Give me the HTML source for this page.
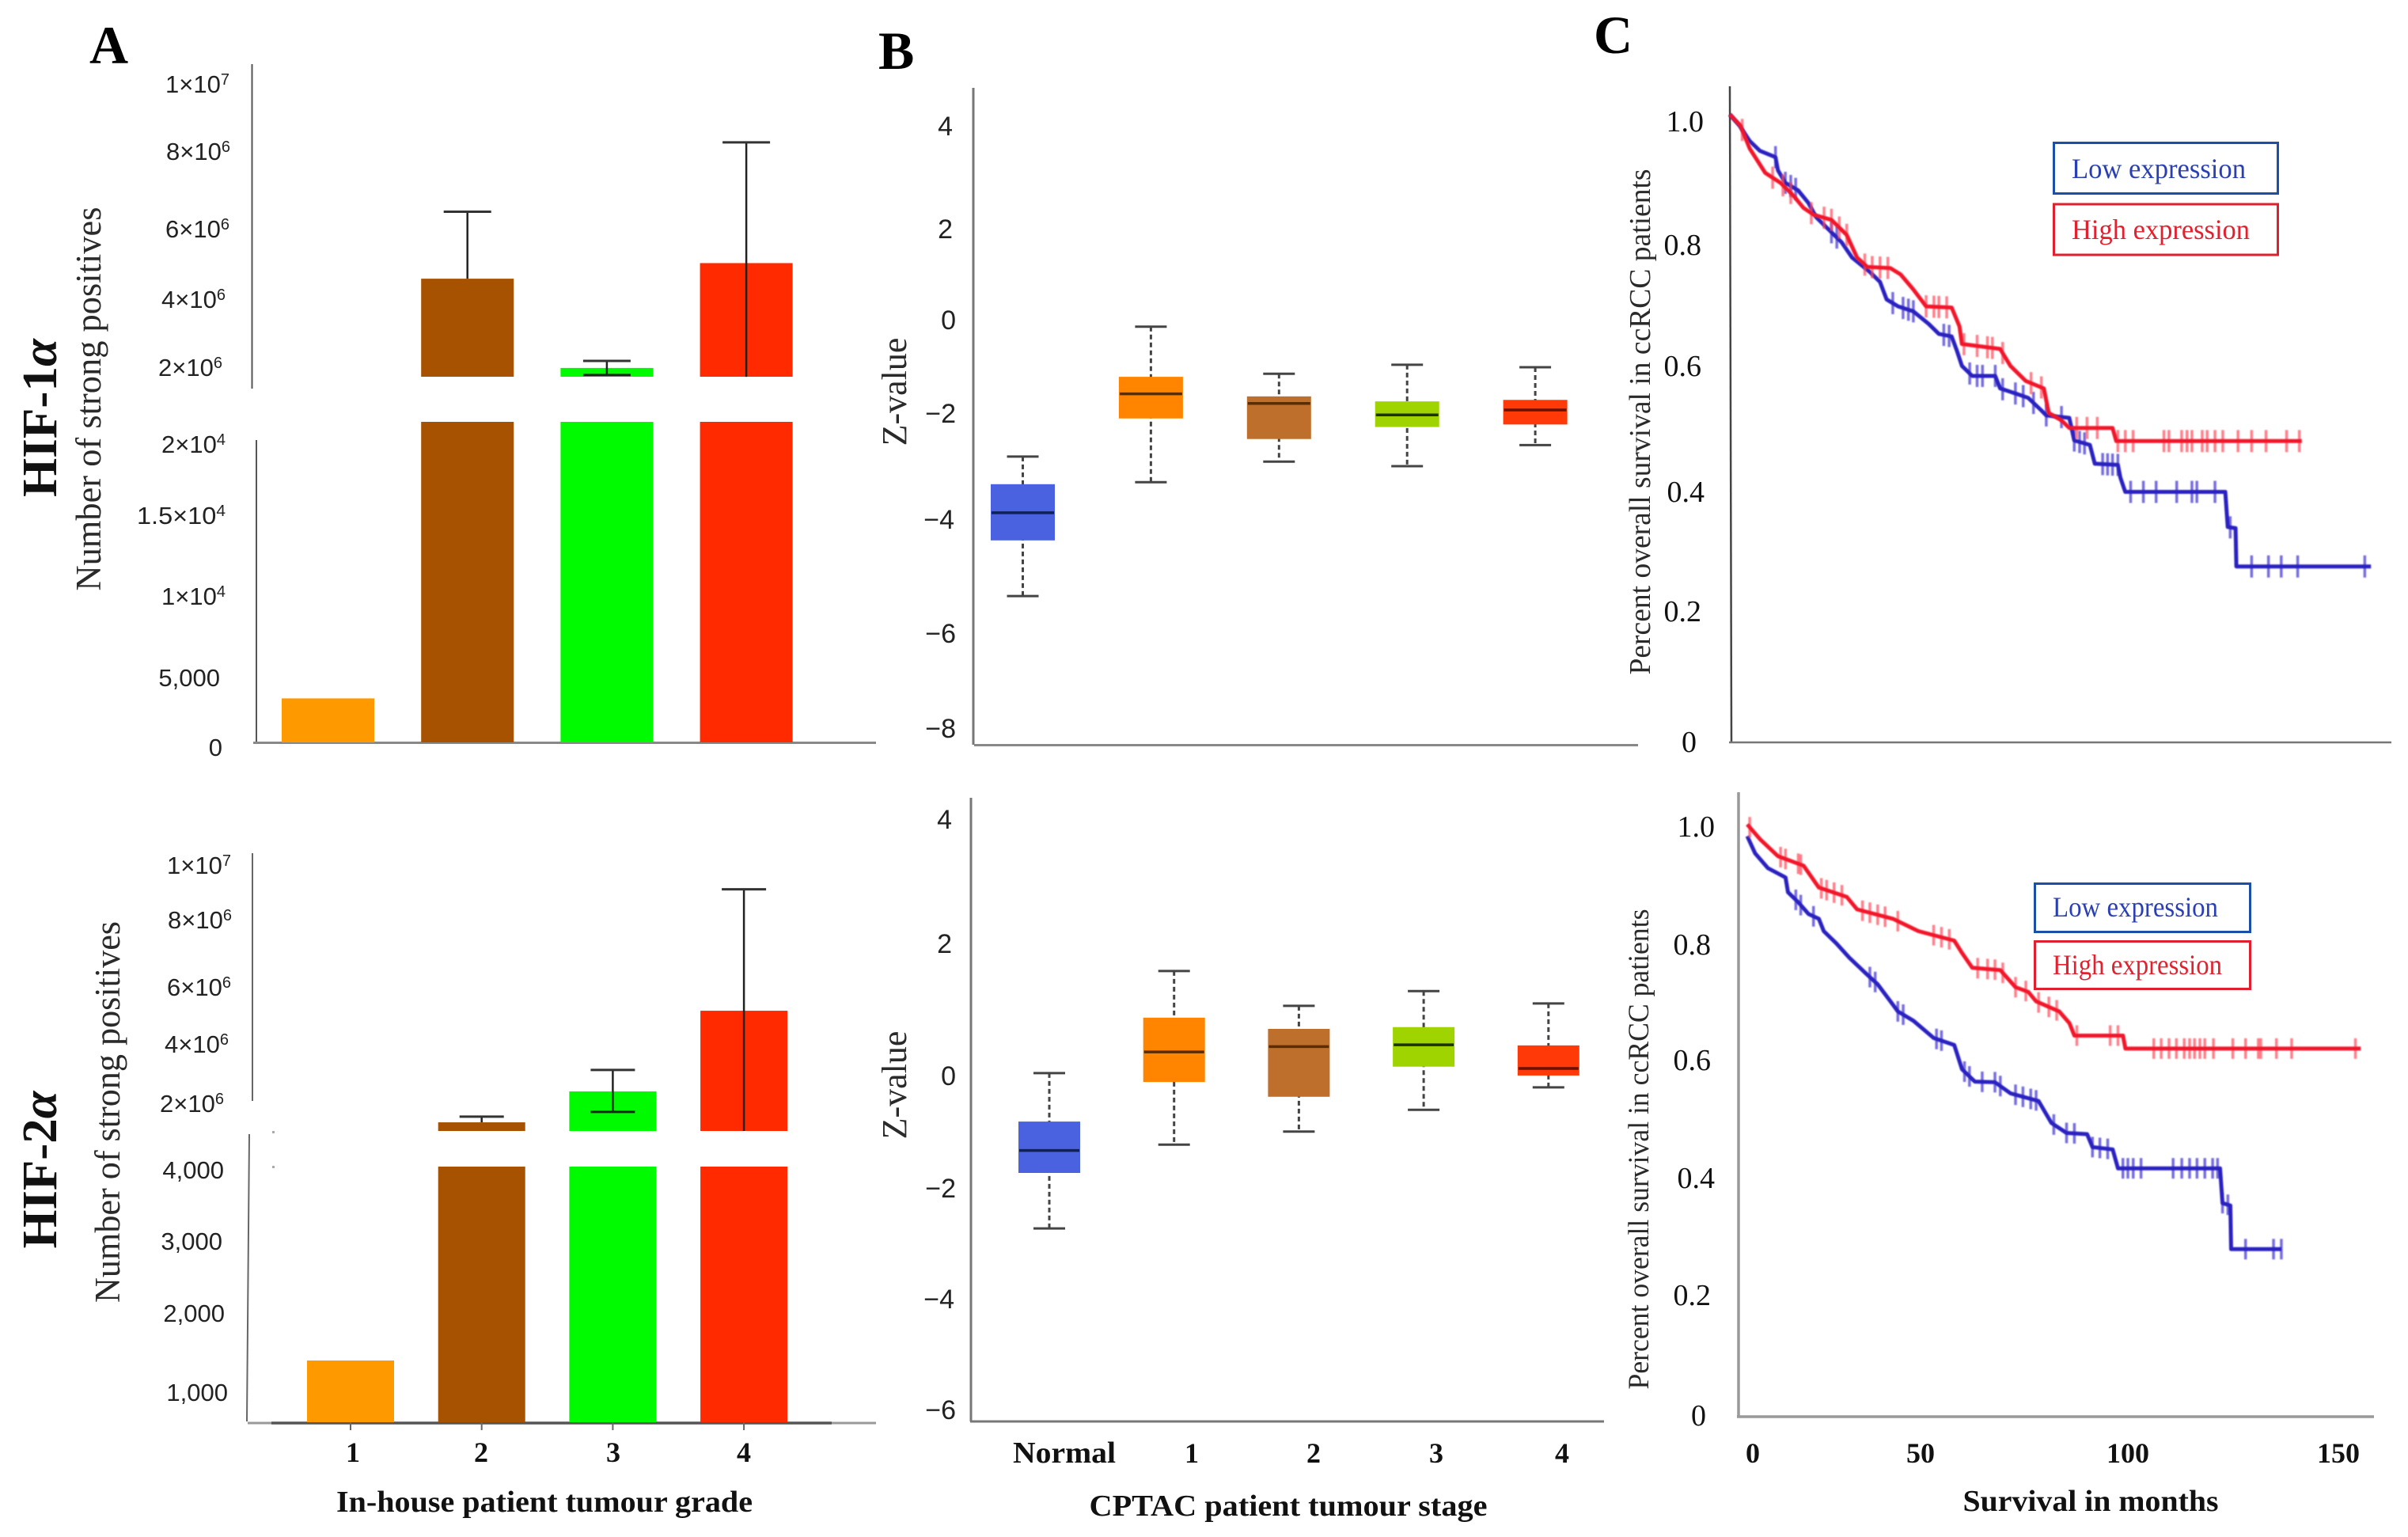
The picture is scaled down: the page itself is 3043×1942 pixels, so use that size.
<!DOCTYPE html>
<html lang="en">
<head>
<meta charset="utf-8">
<title>HIF-1α and HIF-2α expression and survival</title>
<style>
html,body{margin:0;padding:0;background:#fff;width:3043px;height:1942px;overflow:hidden}
svg{display:block}
.tk{font-family:"Liberation Sans",sans-serif;font-size:31px;fill:#222;text-anchor:end}
.tz{font-family:"Liberation Sans",sans-serif;font-size:34px;fill:#222;text-anchor:end}
.ts{font-family:"Liberation Serif",serif;font-size:38px;fill:#111;text-anchor:end}
.sup{font-size:20px}
.yt{font-family:"Liberation Serif",serif;fill:#2a2a2a;text-anchor:middle}
.bl{font-family:"Liberation Serif",serif;font-weight:bold;fill:#111;text-anchor:middle}
.panel{font-family:"Liberation Serif",serif;font-weight:bold;font-size:68px;fill:#000}
.hif{font-family:"Liberation Serif",serif;font-weight:bold;font-size:62px;fill:#111;text-anchor:middle}
.leg{font-family:"Liberation Serif",serif;font-size:36px}
</style>
</head>
<body>
<svg id="fig" xmlns="http://www.w3.org/2000/svg" width="3043" height="1942" viewBox="0 0 3043 1942">
<defs>
<filter id="soft" x="-5%" y="-5%" width="110%" height="110%"><feGaussianBlur stdDeviation="0.9"/></filter>
</defs>
<rect x="0" y="0" width="3043" height="1942" fill="#fff"/>

<!-- panel letters and row labels -->
<text class="panel" x="113" y="80">A</text>
<text class="panel" x="1110" y="87">B</text>
<text class="panel" x="2014" y="67">C</text>
<text class="hif" transform="translate(71,528) rotate(-90)" textLength="200" lengthAdjust="spacingAndGlyphs">HIF-1<tspan font-style="italic">α</tspan></text>
<text class="hif" transform="translate(71,1478) rotate(-90)" textLength="199" lengthAdjust="spacingAndGlyphs">HIF-2<tspan font-style="italic">α</tspan></text>

<!-- panel A static axes -->
<g fill="none">
<line x1="318.5" y1="81" x2="318.5" y2="491" stroke="#555" stroke-width="2"/>
<line x1="324" y1="556" x2="324" y2="938" stroke="#555" stroke-width="2"/>
<line x1="320" y1="938.5" x2="1107" y2="938.5" stroke="#888" stroke-width="3"/>
</g>
<g fill="none">
<line x1="319" y1="1078" x2="319" y2="1391" stroke="#666" stroke-width="2"/>
<line x1="315" y1="1433" x2="312" y2="1796" stroke="#666" stroke-width="2"/>
<line x1="313" y1="1798" x2="1107" y2="1798" stroke="#999" stroke-width="3"/>
<line x1="343" y1="1798" x2="1051" y2="1798" stroke="#555" stroke-width="3.5"/>
<rect x="344" y="1429" width="3" height="3" fill="#aaa"/>
<rect x="344" y="1473" width="3" height="3" fill="#aaa"/>
</g>

<!-- panel A tick labels -->
<g>
<text class="tk" x="290" y="117">1×10<tspan class="sup" dy="-10">7</tspan></text>
<text class="tk" x="291" y="202">8×10<tspan class="sup" dy="-10">6</tspan></text>
<text class="tk" x="290" y="300">6×10<tspan class="sup" dy="-10">6</tspan></text>
<text class="tk" x="285" y="389">4×10<tspan class="sup" dy="-10">6</tspan></text>
<text class="tk" x="281" y="475">2×10<tspan class="sup" dy="-10">6</tspan></text>
<text class="tk" x="285" y="572">2×10<tspan class="sup" dy="-10">4</tspan></text>
<text class="tk" x="285" y="662" textLength="112" lengthAdjust="spacingAndGlyphs">1.5×10<tspan class="sup" dy="-10">4</tspan></text>
<text class="tk" x="285" y="764">1×10<tspan class="sup" dy="-10">4</tspan></text>
<text class="tk" x="278" y="867">5,000</text>
<text class="tk" x="281" y="955">0</text>
</g>
<g>
<text class="tk" x="292" y="1104">1×10<tspan class="sup" dy="-10">7</tspan></text>
<text class="tk" x="293" y="1173">8×10<tspan class="sup" dy="-10">6</tspan></text>
<text class="tk" x="292" y="1258">6×10<tspan class="sup" dy="-10">6</tspan></text>
<text class="tk" x="289" y="1330">4×10<tspan class="sup" dy="-10">6</tspan></text>
<text class="tk" x="283" y="1405">2×10<tspan class="sup" dy="-10">6</tspan></text>
<text class="tk" x="283" y="1489">4,000</text>
<text class="tk" x="281" y="1579">3,000</text>
<text class="tk" x="284" y="1670">2,000</text>
<text class="tk" x="288" y="1770">1,000</text>
</g>
<text class="yt" font-size="45" transform="translate(127,504) rotate(-90)" textLength="485" lengthAdjust="spacingAndGlyphs">Number of strong positives</text>
<text class="yt" font-size="45" transform="translate(151,1405) rotate(-90)" textLength="482" lengthAdjust="spacingAndGlyphs">Number of strong positives</text>
<text class="bl" font-size="36" x="446" y="1847">1</text>
<text class="bl" font-size="36" x="608" y="1847">2</text>
<text class="bl" font-size="36" x="775" y="1847">3</text>
<text class="bl" font-size="36" x="940" y="1847">4</text>
<text class="bl" font-size="38" x="688" y="1910" textLength="526" lengthAdjust="spacingAndGlyphs">In-house patient tumour grade</text>

<!-- panel B static axes and labels -->
<line x1="1230" y1="111" x2="1230" y2="941" stroke="#777" stroke-width="3"/>
<line x1="1231" y1="941.5" x2="2070" y2="941.5" stroke="#888" stroke-width="3"/>
<line x1="1227" y1="1008" x2="1227" y2="1796" stroke="#777" stroke-width="3"/>
<line x1="1226" y1="1796" x2="2027" y2="1796" stroke="#777" stroke-width="3"/>
<g>
<text class="tz" x="1204" y="171">4</text>
<text class="tz" x="1204" y="301">2</text>
<text class="tz" x="1208" y="416">0</text>
<text class="tz" x="1208" y="534">−2</text>
<text class="tz" x="1206" y="668">−4</text>
<text class="tz" x="1208" y="812">−6</text>
<text class="tz" x="1208" y="932">−8</text>
</g>
<g>
<text class="tz" x="1203" y="1047">4</text>
<text class="tz" x="1203" y="1204">2</text>
<text class="tz" x="1208" y="1371">0</text>
<text class="tz" x="1208" y="1513">−2</text>
<text class="tz" x="1206" y="1653">−4</text>
<text class="tz" x="1208" y="1793">−6</text>
</g>
<text class="yt" font-size="44" transform="translate(1145,495) rotate(-90)">Z-value</text>
<text class="yt" font-size="44" transform="translate(1145,1371) rotate(-90)">Z-value</text>
<text class="bl" font-size="38" x="1345" y="1848" textLength="130" lengthAdjust="spacingAndGlyphs">Normal</text>
<text class="bl" font-size="36" x="1506" y="1848">1</text>
<text class="bl" font-size="36" x="1660" y="1848">2</text>
<text class="bl" font-size="36" x="1815" y="1848">3</text>
<text class="bl" font-size="36" x="1974" y="1848">4</text>
<text class="bl" font-size="38" x="1628" y="1915" textLength="503" lengthAdjust="spacingAndGlyphs">CPTAC patient tumour stage</text>

<!-- panel C static axes and labels -->
<line x1="2186" y1="109" x2="2188" y2="937" stroke="#444" stroke-width="2.5"/>
<line x1="2185" y1="938" x2="3022" y2="938" stroke="#777" stroke-width="2.5"/>
<line x1="2197" y1="1001" x2="2197" y2="1790" stroke="#999" stroke-width="3.5"/>
<line x1="2195" y1="1790" x2="3000" y2="1790" stroke="#999" stroke-width="3.5"/>
<g>
<text class="ts" x="2153" y="166">1.0</text>
<text class="ts" x="2150" y="322">0.8</text>
<text class="ts" x="2150" y="475">0.6</text>
<text class="ts" x="2154" y="634">0.4</text>
<text class="ts" x="2150" y="785">0.2</text>
<text class="ts" x="2144" y="950">0</text>
</g>
<g>
<text class="ts" x="2167" y="1057">1.0</text>
<text class="ts" x="2162" y="1206">0.8</text>
<text class="ts" x="2162" y="1352">0.6</text>
<text class="ts" x="2167" y="1501">0.4</text>
<text class="ts" x="2162" y="1649">0.2</text>
<text class="ts" x="2156" y="1801">0</text>
</g>
<text class="yt" font-size="38" transform="translate(2085,533) rotate(-90)" textLength="639" lengthAdjust="spacingAndGlyphs">Percent overall survival in ccRCC patients</text>
<text class="yt" font-size="37" transform="translate(2083,1452) rotate(-90)" textLength="607" lengthAdjust="spacingAndGlyphs">Percent overall survival in ccRCC patients</text>
<text class="bl" font-size="36" x="2215" y="1848">0</text>
<text class="bl" font-size="36" x="2427" y="1848">50</text>
<text class="bl" font-size="36" x="2689" y="1848">100</text>
<text class="bl" font-size="36" x="2955" y="1848">150</text>
<text class="bl" font-size="38" x="2642" y="1909" textLength="323" lengthAdjust="spacingAndGlyphs">Survival in months</text>

<!-- panel C legends -->
<g>
<rect x="2595.5" y="180.5" width="283" height="64" fill="#fff" stroke="#1c50a8" stroke-width="3"/>
<text class="leg" x="2618" y="225" fill="#2b3fb4" textLength="220" lengthAdjust="spacingAndGlyphs">Low expression</text>
<rect x="2595.5" y="258" width="283" height="64" fill="#fff" stroke="#e0202e" stroke-width="3"/>
<text class="leg" x="2618" y="302" fill="#e2202e" textLength="225" lengthAdjust="spacingAndGlyphs">High expression</text>
</g>
<g>
<rect x="2571.5" y="1116.5" width="272" height="61" fill="#fff" stroke="#1c50a8" stroke-width="3"/>
<text class="leg" x="2594" y="1158" fill="#2b3fb4" textLength="209" lengthAdjust="spacingAndGlyphs">Low expression</text>
<rect x="2571.5" y="1189.5" width="272" height="60" fill="#fff" stroke="#e0202e" stroke-width="3"/>
<text class="leg" x="2594" y="1231" fill="#e2202e" textLength="214" lengthAdjust="spacingAndGlyphs">High expression</text>
</g>
</svg>

<script>
// ---------- Panel A data ----------
const gradeCategories = ['1', '2', '3', '4'];
const hif1Means = [2950, 4.5e6, 1.98e6, 4.94e6];
const hif1ErrHigh = [null, 6.39e6, 2.18e6, 8.35e6];
const hif1ErrLow = [null, 4.5e6, 1.78e6, 1.73e6];
const hif1LowCap = [false, false, true, false];
const hif2Means = [1427, 1.36e6, 2.4e6, 5.11e6];
const hif2ErrHigh = [null, 1.55e6, 3.12e6, 9.19e6];
const hif2ErrLow = [null, 1.36e6, 1.71e6, 1.07e6];
const hif2LowCap = [false, false, true, false];
const gradeColors = ['#ff9900', '#a65200', '#00fb00', '#ff2a00'];

// ---------- Panel B data: [whisker high, q3, median, q1, whisker low] ----------
const stageCategories = ['Normal', '1', '2', '3', '4'];
const hif1Boxes = [
  [-2.59, -3.14, -3.71, -4.26, -5.37],
  [0.0, -1.0, -1.34, -1.83, -3.10],
  [-0.94, -1.39, -1.53, -2.24, -2.69],
  [-0.76, -1.49, -1.76, -2.0, -2.78],
  [-0.81, -1.46, -1.66, -1.95, -2.36]
];
const hif2Boxes = [
  [-0.16, -0.98, -1.47, -1.85, -2.79],
  [1.57, 0.78, 0.20, -0.31, -1.37],
  [0.98, 0.59, 0.29, -0.56, -1.15],
  [1.23, 0.62, 0.32, -0.05, -0.78],
  [1.02, 0.31, -0.08, -0.20, -0.40]
];
const stageColors = ['#4a62e0', '#ff8400', '#bf6f2c', '#a0d400', '#ff3a08'];
const stageMedianColors = ['#10205a', '#5a2c00', '#5a2c00', '#1c3000', '#6a1000'];

// ---------- Panel C data: months and survival ----------
const c1LowMonths = [0,2.4,4.8,7.3,11.1,11.7,13.5,16.6,19.1,21,24.1,27.2,29.7,34,36.5,38.1,40.9,44.6,48.3,50.8,53.9,55.2,56.4,58.9,64.5,65.7,69.4,72.5,75.7,76.9,82.5,83.7,87.5,88.7,94.3,94.9,96.1,120.4,121,122.9,123.1,155.8];
const c1LowSurvival = [1.001,.983,.959,.943,.933,.912,.892,.88,.86,.837,.817,.797,.773,.75,.734,.706,.695,.687,.667,.651,.647,.624,.6,.584,.584,.564,.556,.549,.529,.521,.517,.481,.474,.444,.442,.422,.399,.399,.343,.341,.28,.28];
const c1LowCensored = [11.1,13.5,14.8,16,24.7,26,39.6,42.1,43.4,44.6,52,53.3,58.3,60.1,61.4,64.5,66.3,69.4,71.3,73.8,76.9,80.6,83.7,85,86.2,90.6,91.8,93,94.3,97.4,100.5,103.6,108.6,112.3,113.5,117.9,121.6,126.8,130.9,134,138,154.3];
const c1HighMonths = [0,2.6,4.8,8.6,12.3,15.4,17.9,20.4,24.7,28.4,30.9,33.4,39,41.5,44.6,47.7,53.9,55.8,56.4,65.7,68.2,71.9,76.3,77.5,80.6,82.5,93,93.9,139];
const c1HighSurvival = [1.001,.983,.947,.908,.892,.872,.852,.841,.833,.809,.773,.758,.756,.746,.722,.695,.693,.663,.635,.627,.6,.576,.564,.525,.513,.501,.501,.48,.48];
const c1HighCensored = [3,10.4,12.9,14.8,19.8,22.9,24.7,26.6,28.4,32.8,34.6,36.5,38.4,47.7,49.6,50.8,52.7,56.9,60.1,62.6,63.8,66.3,73.2,75.7,84.3,86.8,89.3,94.3,96.1,98,105.5,106.7,109.8,111.1,112.3,114.8,116,117.9,119.8,123.5,126.8,130.3,135.3,138.4];
const c2LowMonths = [0,1.9,5,9.3,9.9,12.4,14.9,17.4,18.6,21.7,24.8,29.2,31.7,34.8,36.6,40.4,45.3,50.3,52.2,55.3,60.2,64,70.8,73.9,77.6,82.6,83.9,88.8,90.1,114.9,115.5,117.4,117.6,129.8];
const c2LowSurvival = [.984,.955,.93,.914,.889,.872,.852,.844,.823,.802,.778,.749,.733,.704,.687,.671,.642,.63,.589,.568,.567,.548,.535,.498,.481,.479,.457,.453,.421,.421,.362,.358,.284,.284];
const c2LowCensored = [11.8,13,16.1,29.8,31.1,36.6,37.9,46,47.2,52.8,54,57.1,60.2,61.5,65.2,67,68.9,70.2,74.5,77.6,79.5,83.9,85.7,87.6,91.3,92.5,93.8,95.7,103.5,105.6,107.5,109.3,111.2,113.1,114.3,115.5,116.8,121.1,127.9,129.8];
const c2HighMonths = [0,3.1,7.5,13.7,17.4,24.2,26.7,35.4,41.6,50.3,52.2,54.7,61.5,65.2,68.3,70.2,75.8,78.3,79.5,91.3,91.9,149.1];
const c2HighSurvival = [1.004,.979,.95,.934,.897,.881,.86,.844,.823,.807,.786,.761,.757,.728,.72,.704,.687,.667,.646,.646,.624,.624];
const c2HighCensored = [.6,8.1,9.3,12.4,13,18,19.3,21.1,23,28,29.8,31.7,33.5,36.6,45.3,47.2,49.1,56,58.4,60.2,62.1,65.2,67.7,70.8,73.3,75.2,80.1,88.2,90.1,98.8,100.6,102.5,104.3,106.2,107.5,108.7,110,111.2,113.3,118,121.1,124.2,124.8,128.6,132.3,147.8];

// ---------- helpers ----------
const NS = 'http://www.w3.org/2000/svg';
const fig = document.getElementById('fig');
function mk(tag, parent, attrs) {
  const el = document.createElementNS(NS, tag);
  for (const k in attrs) el.setAttribute(k, attrs[k]);
  parent.appendChild(el);
  return el;
}

// ---------- Panel A: broken-axis bars ----------
function drawBars(name, means, errHigh, errLow, lowCap, ax) {
  const g = mk('g', fig, {});
  
  
  const xPos = i => ax.x0 + ax.step * i;
  const yLower = v => ax.lowerY0 - v * ax.lowerK;
  const yUpper = v => ax.upperY0 - (v - ax.upperV0) * ax.upperK;
  gradeCategories.forEach((cat, i) => {
    const cx = xPos(i);
    const left = cx - ax.w / 2;
    const mean = means[i];
    const topLower = Math.max(yLower(mean), ax.lowerTop);
    const lower = mk('rect', g, {x: left, y: topLower, width: ax.w, height: ax.base - topLower, fill: gradeColors[i]});
    
    
    if (yLower(mean) < ax.lowerTop) {
      const top = yUpper(mean);
      const upper = mk('rect', g, {x: left, y: top, width: ax.w, height: ax.breakBottom - top, fill: gradeColors[i]});
      
      
    }
    if (errHigh[i] !== null) {
      const yHi = yUpper(errHigh[i]);
      const yLo = yUpper(errLow[i]);
      const stem = mk('line', g, {x1: cx, y1: yHi, x2: cx, y2: yLo, stroke: '#222', 'stroke-width': 2.5});
      
      
      const cap = mk('line', g, {x1: cx - ax.cap, y1: yHi, x2: cx + ax.cap, y2: yHi, stroke: '#333', 'stroke-width': 3});
      
      
      if (lowCap[i]) {
        const capLow = mk('line', g, {x1: cx - ax.cap, y1: yLo, x2: cx + ax.cap, y2: yLo, stroke: '#222', 'stroke-width': 3});
        
        
      }
    }
    if (ax.ticks) {
      const tick = mk('line', g, {x1: cx, y1: ax.base, x2: cx, y2: ax.base + 10, stroke: '#666', 'stroke-width': 2});
      
      
    }
  });
}
drawBars('hif1-bars', hif1Means, hif1ErrHigh, hif1ErrLow, hif1LowCap, {
  x0: 414.5, step: 176.2, w: 117, cap: 30, base: 938,
  lowerY0: 938, lowerK: 0.01885, lowerTop: 533,
  upperY0: 464, upperV0: 2e6, upperK: 44.75e-6, breakBottom: 476, ticks: false
});
drawBars('hif2-bars', hif2Means, hif2ErrHigh, hif2ErrLow, hif2LowCap, {
  x0: 443, step: 165.7, w: 110, cap: 28, base: 1797,
  lowerY0: 1852.7, lowerK: 0.0937, lowerTop: 1474,
  upperY0: 1394, upperV0: 2e6, upperK: 37.6e-6, breakBottom: 1429, ticks: true
});

// ---------- Panel B: box plots ----------
function drawBoxes(name, boxes, ax) {
  const g = mk('g', fig, {});
  
  
  const xPos = i => ax.x0 + ax.step * i;
  const y = v => ax.y0 - v * ax.k;
  stageCategories.forEach((cat, i) => {
    const cx = xPos(i);
    const [hi, q3, med, q1, lo] = boxes[i];
    const whisk = mk('line', g, {x1: cx, y1: y(hi), x2: cx, y2: y(lo), stroke: '#444', 'stroke-width': 3, 'stroke-dasharray': '6 4'});
    
    
    const capHi = mk('line', g, {x1: cx - 20, y1: y(hi), x2: cx + 20, y2: y(hi), stroke: '#444', 'stroke-width': 3});
    
    
    const capLo = mk('line', g, {x1: cx - 20, y1: y(lo), x2: cx + 20, y2: y(lo), stroke: '#444', 'stroke-width': 3});
    
    
    const box = mk('rect', g, {x: cx - ax.w / 2, y: y(q3), width: ax.w, height: y(q1) - y(q3), fill: stageColors[i]});
    
    
    const median = mk('line', g, {x1: cx - ax.w / 2 + 1, y1: y(med), x2: cx + ax.w / 2 - 1, y2: y(med), stroke: stageMedianColors[i], 'stroke-width': 3.5});
    
    
  });
}
drawBoxes('hif1-boxes', hif1Boxes, {x0: 1292.5, step: 161.9, w: 81, y0: 412.7, k: 63.4});
drawBoxes('hif2-boxes', hif2Boxes, {x0: 1326, step: 157.7, w: 78, y0: 1344, k: 74.6});

// ---------- Panel C: survival curves ----------
function interp(ms, vs, m) {
  for (let i = 1; i < ms.length; i++) {
    if (m <= ms[i]) {
      const t = (m - ms[i - 1]) / ((ms[i] - ms[i - 1]) || 1);
      return vs[i - 1] + (vs[i] - vs[i - 1]) * t;
    }
  }
  return vs[vs.length - 1];
}
function drawCurve(name, months, survival, censored, color, tickColor, ax) {
  const g = mk('g', fig, {filter: 'url(#soft)'});
  
  
  const x = m => ax.x0 + ax.kx * m;
  const y = v => ax.y0 - ax.ky * v;
  censored.forEach(m => {
    const t = mk('line', g, {x1: x(m), y1: y(interp(months, survival, m)) - ax.tick, x2: x(m), y2: y(interp(months, survival, m)) + ax.tick, stroke: tickColor, 'stroke-width': 3.5, 'stroke-opacity': 0.7});
    
    
  });
  const d = months.map((m, i) => (i ? 'L' : 'M') + x(m).toFixed(1) + ' ' + y(survival[i]).toFixed(1)).join(' ');
  const line = mk('path', g, {d: d, fill: 'none', stroke: color, 'stroke-width': 5, 'stroke-linejoin': 'round'});
  
  
}
const c1Axis = {x0: 2186, kx: 5.2, y0: 937.5, ky: 792, tick: 14};
const c2Axis = {x0: 2208, kx: 5.2, y0: 1790, ky: 745.4, tick: 13};
drawCurve('c-top-low-expression-curve', c1LowMonths, c1LowSurvival, c1LowCensored, '#2a20c0', '#3a30d0', c1Axis);
drawCurve('c-top-high-expression-curve', c1HighMonths, c1HighSurvival, c1HighCensored, '#f2142c', '#ff4a5a', c1Axis);
drawCurve('c-bottom-low-expression-curve', c2LowMonths, c2LowSurvival, c2LowCensored, '#2a20c0', '#3a30d0', c2Axis);
drawCurve('c-bottom-high-expression-curve', c2HighMonths, c2HighSurvival, c2HighCensored, '#f2142c', '#ff4a5a', c2Axis);
</script>
</body>
</html>
